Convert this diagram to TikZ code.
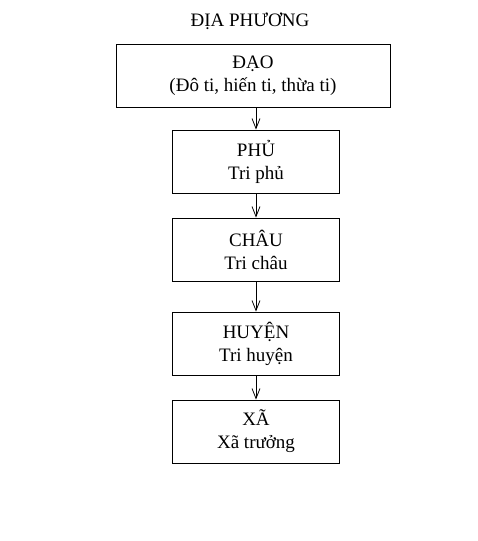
\documentclass[tikz,border=0pt]{standalone}
\usepackage{fontspec}
\setmainfont{Liberation Serif}
\usetikzlibrary{arrows.meta}

\begin{document}
\begin{tikzpicture}[x=1pt,y=-1pt,line width=0.8pt,
  every node/.style={font=\fontsize{19}{23}\selectfont,align=center},
  capbox/.style={draw,minimum width=167pt,minimum height=63pt,inner sep=0pt},
  down/.style={-{Straight Barb[length=10pt,width=8pt]}}]
\useasboundingbox (0,0) rectangle (478,541);
%title
\node (title) at (250,21) {ĐỊA PHƯƠNG};
%levels
\node[capbox,minimum width=274pt] (dao) at (253,75.5) {ĐẠO\\(Đô ti, hiến ti, thừa ti)};
\node[capbox] (phu) at (256,161.5) {PHỦ\\Tri phủ};
\node[capbox] (chau) at (256,249.5) {CHÂU\\Tri châu};
\node[capbox] (huyen) at (256,343.5) {HUYỆN\\Tri huyện};
\node[capbox] (xa) at (256,431.5) {XÃ\\Xã trưởng};
%arrows
\draw[down] (dao.south -| phu.north) -- (phu.north);
\draw[down] (phu) -- (chau);
\draw[down] (chau) -- (huyen);
\draw[down] (huyen) -- (xa);
\end{tikzpicture}
\end{document}
